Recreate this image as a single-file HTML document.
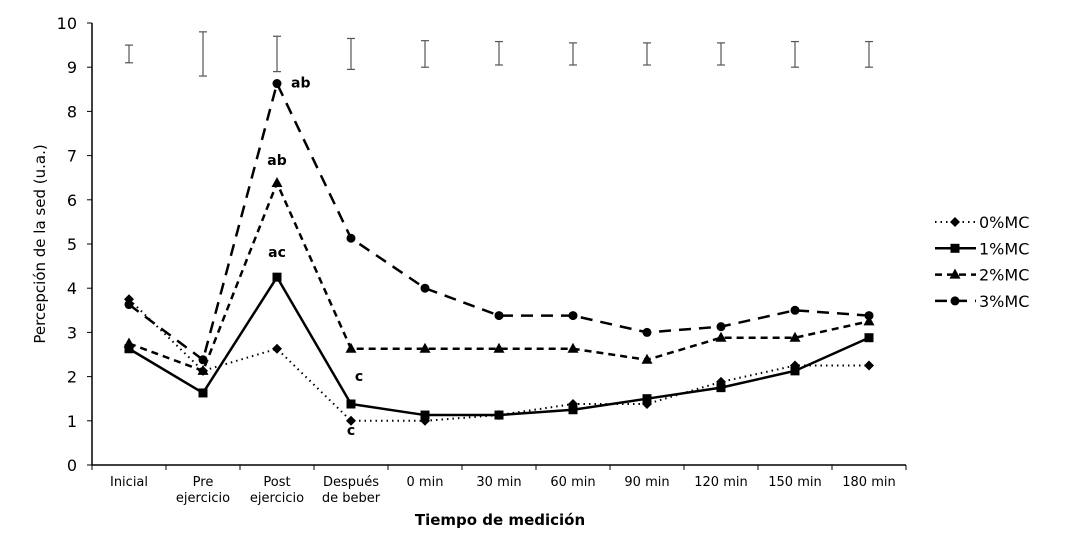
<!DOCTYPE html>
<html><head><meta charset="utf-8"><style>
body{margin:0;background:#fff;font-family:"Liberation Sans",sans-serif}
svg text{font-family:"DejaVu Sans","Liberation Sans",sans-serif}
</style></head><body>
<svg id="c" width="1071" height="536"></svg>
<script>
const categories=["Inicial","Pre|ejercicio","Post|ejercicio","Después|de beber","0 min","30 min","60 min","90 min","120 min","150 min","180 min"];
const yTicks=[0,1,2,3,4,5,6,7,8,9,10];
const s0=[3.75,2.13,2.63,1.0,1.0,1.13,1.38,1.38,1.88,2.25,2.25];
const s1=[2.63,1.63,4.25,1.38,1.13,1.13,1.25,1.5,1.75,2.13,2.88];
const s2=[2.75,2.13,6.38,2.63,2.63,2.63,2.63,2.38,2.88,2.88,3.25];
const s3=[3.63,2.38,8.63,5.13,4.0,3.38,3.38,3.0,3.13,3.5,3.38];
const errLow=[9.1,8.8,8.9,8.95,9.0,9.05,9.05,9.05,9.05,9.0,9.0];
const errHigh=[9.5,9.8,9.7,9.65,9.6,9.58,9.55,9.55,9.55,9.58,9.58];
const seriesNames=["0%MC","1%MC","2%MC","3%MC"];
const annotations=[{i:2,v:8.63,t:"ab",dx:14,dy:4},{i:2,v:6.38,t:"ab",dx:0,dy:-18},{i:2,v:4.25,t:"ac",dx:0,dy:-20},{i:3,v:1.38,t:"c",dx:8,dy:-23},{i:3,v:1.0,t:"c",dx:0,dy:14}];
const svg=document.getElementById('c');const NS="http://www.w3.org/2000/svg";
const X0=92,STEP=74,Y0=465,Y10=23;
const x=i=>X0+STEP*(i+0.5);const y=v=>Y0-(Y0-Y10)*v/10;
function el(t,a,p){const e=document.createElementNS(NS,t);for(const k in a)e.setAttribute(k,a[k]);(p||svg).appendChild(e);return e;}
let e;
e=el('line',{x1:X0,y1:Y10,x2:X0,y2:Y0,stroke:'#000','stroke-width':1.5});

e=el('line',{x1:X0,y1:Y0,x2:X0+STEP*categories.length,y2:Y0,stroke:'#000','stroke-width':1.5});

yTicks.forEach(v=>{el('line',{x1:X0-5,y1:y(v),x2:X0,y2:y(v),stroke:'#000'});
e=el('text',{x:X0-15,y:y(v)+6,'text-anchor':'end','font-size':16});e.textContent=v;
});
for(let i=0;i<=categories.length;i++)el('line',{x1:X0+STEP*i,y1:Y0,x2:X0+STEP*i,y2:Y0+5,stroke:'#000'});
categories.forEach((c,i)=>{c.split('|').forEach((p,j)=>{e=el('text',{x:x(i),y:486+j*16,'text-anchor':'middle','font-size':13});e.textContent=p;
});});
e=el('text',{x:500,y:525,'text-anchor':'middle','font-size':15,'font-weight':'bold'});e.textContent="Tiempo de medición";

e=el('text',{x:0,y:0,'text-anchor':'middle','font-size':15,transform:'translate(45,244) rotate(-90)'});e.textContent="Percepción de la sed (u.a.)";

errLow.forEach((lo,i)=>{const g=el('g',{stroke:'#555','stroke-width':1.2});

el('line',{x1:x(i),y1:y(lo),x2:x(i),y2:y(errHigh[i])},g);
el('line',{x1:x(i)-4,y1:y(lo),x2:x(i)+4,y2:y(lo)},g);
el('line',{x1:x(i)-4,y1:y(errHigh[i]),x2:x(i)+4,y2:y(errHigh[i])},g);});
const data=[s0,s1,s2,s3];const dash=["1.5 4","","7 5","12 8"];const widths=[2,2.5,2.5,2.5];
function marker(k,cx,cy,p){if(k==0)return el('path',{d:`M${cx} ${cy-5}L${cx+5} ${cy}L${cx} ${cy+5}L${cx-5} ${cy}Z`,fill:'#000'},p);
if(k==1)return el('rect',{x:cx-4.5,y:cy-4.5,width:9,height:9,fill:'#000'},p);
if(k==2)return el('path',{d:`M${cx} ${cy-6}L${cx+5.5} ${cy+4}L${cx-5.5} ${cy+4}Z`,fill:'#000'},p);
return el('circle',{cx:cx,cy:cy,r:4.5,fill:'#000'},p);}
data.forEach((s,k)=>{const g=el('g',{});
e=el('polyline',{points:s.map((v,i)=>x(i)+','+y(v)).join(' '),fill:'none',stroke:'#000','stroke-width':widths[k],'stroke-dasharray':dash[k]},g);

s.forEach((v,i)=>{const m=marker(k,x(i),y(v),g);});});
annotations.forEach(a=>{e=el('text',{x:x(a.i)+a.dx,y:y(a.v)+a.dy,'font-size':14,'font-weight':'bold','text-anchor':a.dx>10?'start':'middle'});e.textContent=a.t;
});
seriesNames.forEach((n,k)=>{const ly=222+26.3*k;const g=el('g',{});
el('line',{x1:935,y1:ly,x2:976,y2:ly,stroke:'#000','stroke-width':widths[k],'stroke-dasharray':dash[k]},g);
marker(k,955,ly,g);const t=el('text',{x:979,y:ly+6,'font-size':16,'font-family':'Liberation Sans'},g);t.textContent=(k==3?' ':'')+n;});
</script></body></html>
